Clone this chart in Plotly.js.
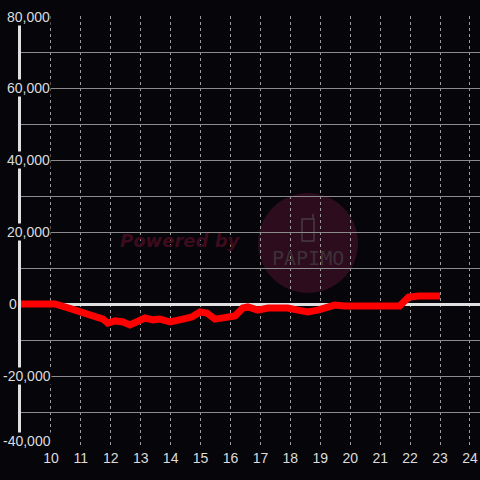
<!DOCTYPE html>
<html>
<head>
<meta charset="utf-8">
<script src="https://cdn.plot.ly/plotly-3.0.1.min.js"></script>
<style>
  html, body { margin: 0; padding: 0; background: #05050a; }
  #chart { width: 480px; height: 480px; }
</style>
</head>
<body>
<div id="chart"></div>
<script>
// ---- data ----
const hours = [9.0, 10.14, 10.57, 11.04, 11.47, 11.74, 11.9, 12.14, 12.41, 12.64, 13.14, 13.41, 13.64, 13.98, 14.41, 14.71, 14.98, 15.21, 15.48, 15.81, 16.15, 16.41, 16.58, 16.91, 17.25, 17.58, 17.91, 18.25, 18.58, 18.91, 19.25, 19.48, 19.8, 21.65, 21.95, 22.3, 23.0];
const values = [0, 0, -1100, -2200, -3300, -4200, -5300, -4700, -5000, -5800, -3900, -4400, -4200, -5000, -4200, -3600, -2200, -2500, -4200, -3900, -3300, -1100, -800, -1700, -1100, -1100, -1100, -1700, -2200, -1700, -800, -300, -550, -550, 1900, 2200, 2200];

const xTickVals = [10, 11, 12, 13, 14, 15, 16, 17, 18, 19, 20, 21, 22, 23, 24];
const xTickText = ['10', '11', '12', '13', '14', '15', '16', '17', '18', '19', '20', '21', '22', '23', '24'];
const yGridVals = [-40000, -30000, -20000, -10000, 0, 10000, 20000, 30000, 40000, 50000, 60000, 70000, 80000];
const yLabelVals = [80000, 60000, 40000, 20000, 0, -20000, -40000];
const yLabelText = ['80,000', '60,000', '40,000', '20,000', '0', '-20,000', '-40,000'];

// ---- layout helpers (pixel -> paper) ----
const L = 21, T = 16, W = 459, H = 432;
const PX = p => (p - L) / W;
const PY = p => (T + H - p) / H;

const bg = '#05050a';
const labelFont = { family: 'Liberation Sans, Arial, sans-serif', size: 14, color: '#dcdcdc' };
const yMin = -40000, yMax = 80000;

const annotations = yLabelVals.map((v, i) => ({
  xref: 'paper', yref: 'y',
  x: PX(v < 0 ? 1.5 : (v === 0 ? 7.5 : 5.5)), y: v,
  xanchor: 'left', yanchor: 'middle',
  yshift: (v === yMin ? 7 : (v === yMax ? -1 : 0)),
  text: yLabelText[i], showarrow: false,
  font: labelFont, bgcolor: bg, borderpad: 0
}));

annotations.push({
  xref: 'paper', yref: 'paper', x: PX(180), y: PY(241),
  xanchor: 'center', yanchor: 'middle', showarrow: false,
  text: 'Powered by',
  font: { family: 'DejaVu Sans, sans-serif', size: 18, color: '#3c0b1e', weight: 'bold', style: 'italic' }
});
annotations.push({
  xref: 'paper', yref: 'paper', x: PX(308), y: PY(258),
  xanchor: 'center', yanchor: 'middle', showarrow: false,
  text: 'PAPIMO',
  font: { family: 'DejaVu Sans Mono, monospace', size: 20, color: '#3e3038' }
});

const shapes = [
  { type: 'circle', xref: 'paper', yref: 'paper', layer: 'below',
    x0: PX(258), x1: PX(358), y0: PY(193), y1: PY(293),
    fillcolor: '#2d0c1e', line: { width: 0 } },
  { type: 'path', xref: 'paper', yref: 'paper', layer: 'below',
    path: 'M' + PX(302) + ',' + PY(219) + ' L' + PX(314) + ',' + PY(219) +
          ' L' + PX(314) + ',' + PY(241) + ' L' + PX(302) + ',' + PY(241) + ' Z',
    fillcolor: 'rgba(0,0,0,0)', line: { color: '#4a3a42', width: 1.5 } },
  { type: 'line', xref: 'paper', yref: 'paper', layer: 'below',
    x0: PX(313), x1: PX(313), y0: PY(214), y1: PY(219),
    line: { color: '#4a3a42', width: 1.5 } }
];

const trace = {
  x: hours, y: values, type: 'scatter', mode: 'lines',
  line: { color: '#ff0000', width: 7, shape: 'linear' },
  hoverinfo: 'skip'
};

const layout = {
  width: 480, height: 480,
  margin: { l: L, r: 0, t: T, b: 480 - T - H, pad: 0 },
  paper_bgcolor: bg, plot_bgcolor: bg,
  showlegend: false,
  xaxis: {
    range: [9, 9 + W / 29.93],
    tickmode: 'array', tickvals: xTickVals, ticktext: xTickText,
    showgrid: true, gridcolor: '#9a9a9a', gridwidth: 1, griddash: 'dot',
    zeroline: false, showline: false, ticks: '',
    tickfont: labelFont, fixedrange: true
  },
  yaxis: {
    range: [yMin, yMax],
    tickmode: 'array', tickvals: yGridVals,
    showticklabels: false, ticks: '',
    showgrid: true, gridcolor: '#8c8c8c', gridwidth: 1,
    zeroline: true, zerolinecolor: '#e0e0e0', zerolinewidth: 3,
    showline: true, linecolor: '#e0e0e0', linewidth: 3,
    fixedrange: true
  },
  annotations: annotations,
  shapes: shapes
};

Plotly.newPlot('chart', [trace], layout, { displayModeBar: false, staticPlot: true });
</script>
</body>
</html>
